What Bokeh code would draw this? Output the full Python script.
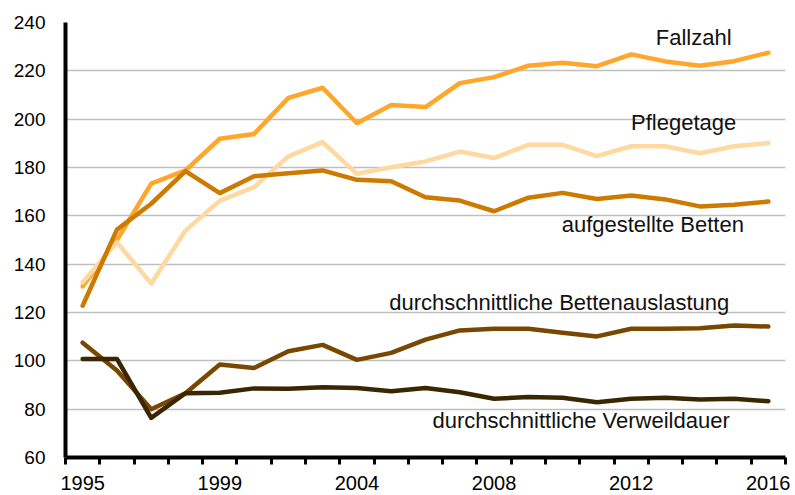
from bokeh.plotting import figure
from bokeh.models import Range1d, FixedTicker, ColumnDataSource
from bokeh.core.properties import value
from bokeh.embed import file_html
from bokeh.resources import INLINE

# ---- data ----
years = ["1995", "1996", "1997", "1998", "1999", "2000", "2001", "2002", "2004", "2005",
         "2006", "2007", "2008", "2009", "2010", "2011", "2012", "2013", "2014", "2015", "2016"]
shown_years = ["1995", "1999", "2004", "2008", "2012", "2016"]
y_ticks = [60, 80, 100, 120, 140, 160, 180, 200, 220, 240]

fallzahl = [130.8, 150.0, 173.3, 178.8, 191.9, 193.9, 208.8, 213.0, 198.3, 205.9, 205.0,
            214.9, 217.4, 222.1, 223.3, 221.9, 226.8, 223.9, 222.1, 224.0, 227.5]
pflegetage = [132.5, 149.0, 132.0, 153.9, 166.3, 171.9, 184.6, 190.5, 177.4, 180.1, 182.5,
              186.6, 183.9, 189.4, 189.4, 184.7, 188.8, 188.8, 185.9, 188.8, 190.1]
betten = [122.8, 154.3, 165.0, 178.5, 169.4, 176.4, 177.6, 178.8, 174.9, 174.3, 167.7,
          166.3, 161.9, 167.5, 169.5, 167.0, 168.4, 166.8, 163.9, 164.6, 165.9]
auslastung = [107.5, 96.0, 80.0, 86.6, 98.5, 97.0, 104.0, 106.6, 100.4, 103.3, 108.8,
              112.6, 113.3, 113.3, 111.6, 110.1, 113.3, 113.3, 113.5, 114.6, 114.2]
verweildauer = [100.8, 100.8, 76.4, 86.6, 86.8, 88.6, 88.4, 89.1, 88.8, 87.4, 88.8,
                87.0, 84.3, 85.0, 84.7, 82.9, 84.3, 84.7, 84.0, 84.3, 83.3]

series_names = ["Fallzahl", "Pflegetage", "aufgestellte Betten",
                "durchschnittliche Bettenauslastung", "durchschnittliche Verweildauer"]
series_values = [fallzahl, pflegetage, betten, auslastung, verweildauer]
series_colors = ["#FFA62B", "#FFD9A1", "#CC7A00", "#784700", "#3B2602"]

# label anchor (x in category index units, y in data units)
label_x = [17.82, 17.53, 16.63, 13.9, 14.54]
label_y = [234.0, 198.8, 156.5, 124.3, 75.3]

idx = list(range(len(years)))

p = figure(width=790, height=494, output_backend="svg", toolbar_location=None,
           x_range=Range1d(-0.5, len(years) - 0.5), y_range=Range1d(60, 240),
           min_border_left=65, min_border_right=5, min_border_top=22, min_border_bottom=37)
p.outline_line_color = None
p.background_fill_color = "white"
p.border_fill_color = "white"

for vals, col in zip(series_values, series_colors):
    src = ColumnDataSource(dict(x=idx, y=vals))
    p.line("x", "y", source=src, line_color=col, line_width=4.5,
           line_join="round", line_cap="round")

p.text(x=label_x, y=label_y, text=series_names, text_font=value("Liberation Sans"),
       text_font_size="22px", text_align="center", text_baseline="alphabetic",
       text_color="#111111")

# x axis
major = [i for i, y in enumerate(years) if y in shown_years]
minor = [i - 0.5 for i in range(len(years) + 1)]
p.xaxis.ticker = FixedTicker(ticks=major, minor_ticks=minor)
p.xaxis.major_label_overrides = {i: years[i] for i in major}
p.xaxis.major_tick_out = 0
p.xaxis.major_tick_in = 0
p.xaxis.minor_tick_out = 7
p.xaxis.minor_tick_in = 0
p.xaxis.minor_tick_line_width = 3
p.xaxis.minor_tick_line_color = "black"
p.xaxis.axis_line_width = 4
p.xaxis.axis_line_color = "black"
p.xaxis.major_label_text_font = "Liberation Sans"
p.xaxis.major_label_text_font_size = "20px"
p.xaxis.major_label_text_color = "black"
p.xaxis.major_label_standoff = 11

# y axis
p.yaxis.ticker = FixedTicker(ticks=y_ticks)
p.yaxis.major_tick_out = 0
p.yaxis.major_tick_in = 0
p.yaxis.minor_tick_line_color = None
p.yaxis.axis_line_width = 4
p.yaxis.axis_line_color = "black"
p.yaxis.major_label_text_font = "Liberation Sans"
p.yaxis.major_label_text_font_size = "19px"
p.yaxis.major_label_text_color = "black"
p.yaxis.major_label_standoff = 20

p.xgrid.grid_line_color = None
p.ygrid.ticker = FixedTicker(ticks=y_ticks)
p.ygrid.grid_line_color = "#BFBFBF"
p.ygrid.grid_line_width = 1.5

open("out.html", "w").write(file_html(p, INLINE))
